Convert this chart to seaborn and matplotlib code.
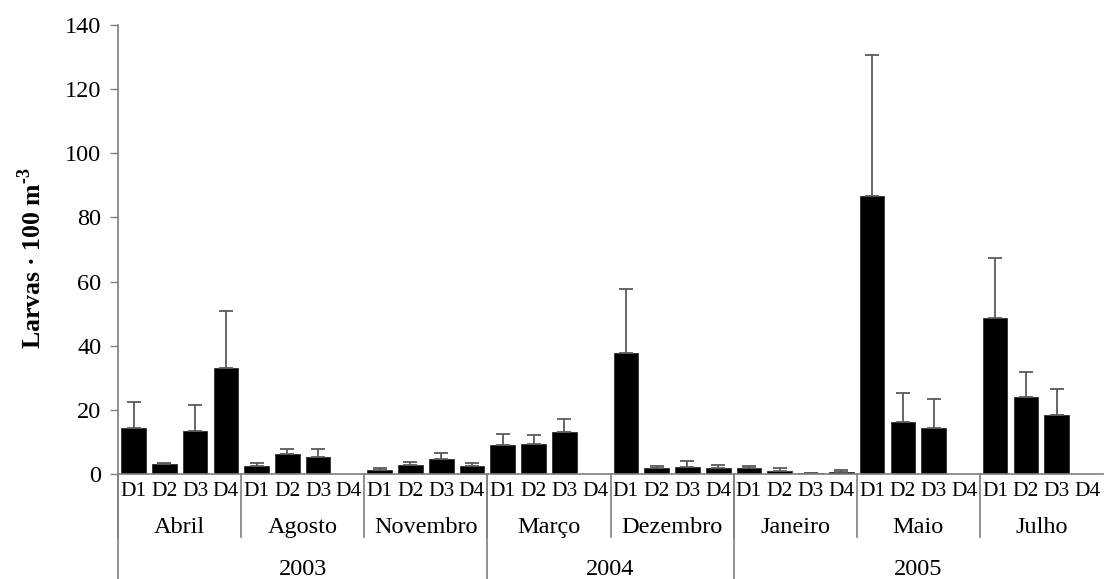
import numpy as np
import pandas as pd
import seaborn as sns
import matplotlib.pyplot as plt
from matplotlib.transforms import blended_transform_factory

# dados
meses = ['Abril', 'Agosto', 'Novembro', 'Março', 'Dezembro', 'Janeiro', 'Maio', 'Julho']
anos = ['2003', '2004', '2005']
meses_por_ano = [3, 2, 3]
profundidades = ['D1', 'D2', 'D3', 'D4']

media = [14.3, 3.1, 13.5, 33.0,
         2.6, 6.2, 5.3, 0.0,
         1.3, 2.9, 4.6, 2.7,
         9.0, 9.4, 13.2, 0.0,
         37.8, 1.9, 2.1, 1.9,
         1.9, 1.0, 0.3, 0.7,
         86.8, 16.4, 14.5, 0.0,
         48.6, 24.0, 18.3, 0.0]
erro_sup = [22.6, 3.5, 21.7, 50.9,
            3.6, 7.8, 8.0, 0.0,
            2.0, 3.7, 6.6, 3.6,
            12.4, 12.2, 17.3, 0.0,
            57.8, 2.4, 4.2, 2.8,
            2.4, 2.0, 0.4, 1.4,
            130.7, 25.3, 23.4, 0.0,
            67.4, 31.7, 26.6, 0.0]

df = pd.DataFrame({
    'pos': np.arange(len(media)),
    'valor': media,
})

plt.rcParams['font.family'] = ['Liberation Serif', 'DejaVu Serif']
plt.rcParams['mathtext.fontset'] = 'custom'
plt.rcParams['mathtext.rm'] = 'Liberation Serif'
plt.rcParams['mathtext.bf'] = 'Liberation Serif:bold'
cinza = '#7f7f7f'
fs = 17.5

fig = plt.figure(figsize=(11.04, 5.79), dpi=100)
ax = fig.add_axes([0.107, 0.181, 0.892, 0.776])

sns.barplot(data=df, x='pos', y='valor', color='black', saturation=1,
            width=0.8, edgecolor='#303030', linewidth=0.6, errorbar=None, ax=ax)

# barras de erro só para cima
sup = np.array(erro_sup) - np.array(media)
tem = np.array(erro_sup) > 0
ax.errorbar(df['pos'][tem], np.array(media)[tem],
            yerr=[np.zeros(tem.sum()), sup[tem]],
            fmt='none', ecolor='#5a5a5a', elinewidth=1.3, capsize=4.8, capthick=1.3)

ax.set_xlim(-0.5, len(media) - 0.5)
ax.set_ylim(0, 140)
ax.set_yticks(range(0, 141, 20))
ax.tick_params(axis='y', labelsize=fs, length=6, width=1, color=cinza, direction='out', pad=6)
ax.set_xticks([])
ax.set_xlabel('')
ax.set_ylabel('Larvas · 100 m$^{\\mathbf{\u2010}\\mathbf{3}}$', fontsize=18.5, fontweight='bold')
ax.yaxis.set_label_coords(-0.073, 0.48)

for s in ['top', 'right']:
    ax.spines[s].set_visible(False)
for s in ['left', 'bottom']:
    ax.spines[s].set_color(cinza)
    ax.spines[s].set_linewidth(1.2)

# eixo x em três níveis
tr = blended_transform_factory(ax.transData, ax.transAxes)
for i in range(len(media)):
    ax.text(i, -0.038, profundidades[i % 4], transform=tr, ha='center', va='center', fontsize=15.5)

for j, m in enumerate(meses):
    ax.text(j * 4 + 1.5, -0.118, m, transform=tr, ha='center', va='center', fontsize=fs)
    ax.plot([j * 4 - 0.5] * 2, [0, -0.14], transform=tr, color=cinza, lw=1.2, clip_on=False)

inicio = 0
limites = [0]
for a, n in zip(anos, meses_por_ano):
    fim = inicio + n * 4
    ax.text((inicio + fim - 1) / 2, -0.212, a, transform=tr, ha='center', va='center', fontsize=fs)
    limites.append(fim)
    inicio = fim
for b in limites[:-1]:
    ax.plot([b - 0.5] * 2, [0, -0.26], transform=tr, color=cinza, lw=1.2, clip_on=False)

fig.savefig('out.png', dpi=100)
